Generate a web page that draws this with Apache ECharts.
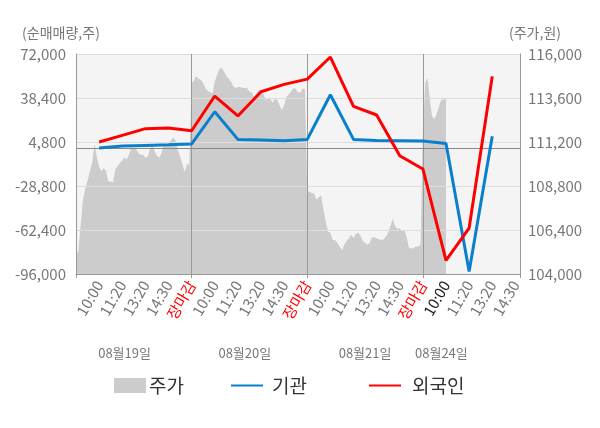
<!DOCTYPE html>
<html>
<head>
<meta charset="utf-8">
<script src="https://cdn.jsdelivr.net/npm/echarts@6/dist/echarts.min.js"></script>
<style>
  html, body { margin: 0; padding: 0; background: #fff; }
  #chart { width: 600px; height: 428px; }
</style>
</head>
<body>
<div id="chart"></div>
<script>
// 시간 눈금 (하루 = 5칸, 칸마다 10포인트)
var timeLabels = ['10:00', '11:20', '13:20', '14:30', '장마감'];
var dateLabels = ['08월19일', '08월20일', '08월21일', '08월24일'];
var dateIdx = [21, 73, 125, 158];
var perSlot = 10;
var totalPoints = 193;

// 주가 (원)
var priceDay1 = [105300, 105150, 106650, 108050, 108650, 109100, 109600, 110050, 111100, 110400,
  109850, 109600, 109800, 109600, 109050, 109050, 109000, 109700, 109900, 110050,
  110200, 110350, 110250, 110550, 110900, 110850, 110800, 110600, 110500, 110500,
  110350, 110400, 110800, 111050, 110700, 110450, 110350, 110600, 111100, 111050,
  111100, 111300, 111450, 111300, 110800, 110400, 110000, 109550, 110000, 109950];
var priceDay2 = [114400, 114550, 114800, 114650, 114600, 114400, 114100, 114000, 113900, 113850,
  114500, 114850, 115200, 115250, 115050, 114800, 114650, 114500, 114250, 114150,
  114200, 114200, 114150, 114150, 114150, 113950, 113900, 113650, 113850, 114050,
  113950, 113800, 113500, 113550, 113550, 113350, 113550, 113500, 113200, 112950,
  113200, 113650, 113800, 113950, 114150, 114100, 113900, 113900, 114100, 114100];
var priceDay3 = [108500, 108500, 108400, 108400, 108050, 108200, 108300, 107500, 106850, 106300,
  106250, 105850, 105850, 105700, 105500, 105300, 105600, 105800, 105950, 106150,
  105950, 106200, 106250, 106100, 105800, 105700, 105600, 105700, 106000, 106000,
  105950, 105900, 105850, 105900, 106050, 106250, 106650, 107000, 106600, 106450,
  106500, 106350, 106400, 106000, 105400, 105400, 105400, 105500, 105500, 105600];
var priceDay4 = [111800, 114400, 114700, 113500, 112600, 112450, 112750, 113150, 113500, 113500, 113600];

// 순매매량 (주), 각 시간 눈금마다
var foreign = [4800, 9900, 15000, 15500, 13400, 39900, 24700, 43200, 48800, 52800,
  69700, 32000, 25400, -5700, -15800, -85600, -60900, 54900];
var institution = [300, 1700, 2200, 2700, 3300, 27900, 6800, 6300, 5800, 6800,
  40900, 6800, 6000, 5800, 5600, 3600, -94000, 9100];

var cats = [];
for (var i = 0; i < totalPoints; i++) cats.push(String(i));
var price = priceDay1.concat(priceDay2, priceDay3, priceDay4);
var foreignData = foreign.map(function (v, k) { return [(k + 1) * perSlot, v]; });
var instData = institution.map(function (v, k) { return [(k + 1) * perSlot, v]; });

function num(v) { return v.toLocaleString('en-US'); }

var chart = echarts.init(document.getElementById('chart'), null, { renderer: 'canvas' });
var font = 'Noto Sans CJK KR';

function legendAt(name, left, extra) {
  var item = { name: name };
  if (extra) for (var k in extra) item[k] = extra[k];
  return {
    top: 371, left: left,
    itemWidth: 32, itemHeight: 15,
    textStyle: { fontSize: 19, color: '#333', fontFamily: font },
    data: [item]
  };
}

var option = {
  animation: false,
  textStyle: { fontFamily: font },
  grid: {
    left: 76, right: 80, top: 54, bottom: 154,
    show: true, backgroundColor: '#f4f4f4', borderWidth: 0
  },
  legend: [
    legendAt('주가', 109, { icon: 'rect', textStyle: { padding: [0, 0, 0, -2] } }),
    legendAt('기관', 225, { itemStyle: { opacity: 0 }, textStyle: { padding: [0, 0, 0, 4] } }),
    legendAt('외국인', 363, { itemStyle: { opacity: 0 }, textStyle: { padding: [0, 0, 0, 6] } })
  ],
  xAxis: [{
    type: 'category',
    data: cats,
    boundaryGap: false,
    z: 3,
    axisLine: { onZero: false, lineStyle: { color: '#999' } },
    axisTick: {
      length: 4,
      lineStyle: { color: '#999' },
      interval: function (idx) { return idx % 50 === 0 || idx === totalPoints - 1; }
    },
    splitLine: {
      show: true,
      lineStyle: { color: '#999', width: 1 },
      interval: function (idx) { return idx > 0 && idx < totalPoints - 1 && idx % 50 === 0; }
    },
    axisLabel: {
      rotate: 60,
      margin: 8,
      fontSize: 15,
      interval: function (idx) { return idx > 0 && idx % perSlot === 0; },
      formatter: function (v, idx) {
        var k = idx / perSlot;
        return timeLabels[(k - 1) % 5];
      },
      color: function (v, idx) {
        var k = Number(v) / perSlot;
        if (k % 5 === 0) return '#ff0000';
        if (k === 16) return '#222';
        return '#777';
      }
    }
  }, {
    type: 'category',
    data: cats,
    boundaryGap: false,
    position: 'bottom',
    offset: 65,
    axisLine: { show: false },
    axisTick: { show: false },
    splitLine: { show: false },
    axisLabel: {
      fontSize: 13,
      color: '#777',
      margin: 8,
      interval: function (idx) { return dateIdx.indexOf(idx) >= 0; },
      formatter: function (v, idx) { return dateLabels[dateIdx.indexOf(Number(v))]; }
    }
  }],
  yAxis: [{
    type: 'value',
    name: '(순매매량,주)',
    nameGap: 14,
    nameTextStyle: { color: '#777', fontSize: 14, align: 'center', padding: [0, 30, 0, 0] },
    min: -96000, max: 72000, interval: 33600,
    z: 3,
    axisLine: { show: true, lineStyle: { color: '#999' } },
    axisTick: { show: false },
    splitLine: { show: true, lineStyle: { color: '#dddddd' } },
    axisLabel: { color: '#777', fontSize: 15, margin: 10, formatter: num }
  }, {
    type: 'value',
    name: '(주가,원)',
    nameGap: 14,
    nameTextStyle: { color: '#777', fontSize: 14, align: 'center', padding: [0, 0, 0, 30] },
    min: 104000, max: 116000, interval: 2400,
    position: 'right',
    z: 3,
    axisLine: { show: true, lineStyle: { color: '#999' } },
    axisTick: { show: false },
    splitLine: { show: false },
    axisLabel: { color: '#777', fontSize: 15, margin: 8, formatter: num }
  }],
  series: [{
    name: '주가',
    type: 'line',
    yAxisIndex: 1,
    data: price,
    symbol: 'none',
    z: 2,
    itemStyle: { color: '#cccccc' },
    lineStyle: { width: 0, color: '#cccccc' },
    areaStyle: { color: '#cccccc', opacity: 1 }
  }, {
    name: '기관',
    type: 'line',
    data: instData,
    symbol: 'none',
    z: 5,
    itemStyle: { color: '#0a7fcc' },
    lineStyle: { width: 3, color: '#0a7fcc' },
    markLine: {
      silent: true,
      symbol: 'none',
      label: { show: false },
      lineStyle: { color: '#888', width: 1, type: 'solid' },
      data: [{ yAxis: 0 }]
    }
  }, {
    name: '외국인',
    type: 'line',
    data: foreignData,
    symbol: 'none',
    z: 6,
    itemStyle: { color: '#ff0000' },
    lineStyle: { width: 3, color: '#ff0000' }
  }]
};

chart.setOption(option);
window.addEventListener('resize', chart.resize);
</script>
</body>
</html>
